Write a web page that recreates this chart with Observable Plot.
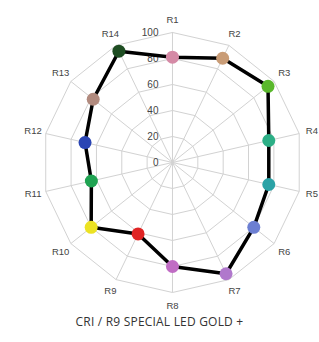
<!DOCTYPE html>
<html>
<head>
<meta charset="utf-8">
<script src="https://cdn.jsdelivr.net/npm/d3@7"></script>
<script src="https://cdn.jsdelivr.net/npm/@observablehq/plot@0.6"></script>
<style>
  html, body { margin: 0; padding: 0; background: #fff; }
  #chart { width: 319px; height: 313px; }
  #chart svg { display: block; }
  .caption { width: 319px; text-align: center; font-family: "Open Sans", sans-serif; font-size: 12px; color: #333; margin-top: 0px; letter-spacing: 0.2px; }
</style>
</head>
<body>
<div id="chart"></div>
<div class="caption">CRI / R9 SPECIAL LED GOLD +</div>
<script>
const categories = ["R1","R2","R3","R4","R5","R6","R7","R8","R9","R10","R11","R12","R13","R14"];
const values = [81, 89, 94, 76, 76, 80, 95, 80, 61, 80, 64, 69, 78, 95];
const colors = ["#d58aa6","#c99c76","#5ab82c","#2caf86","#2aa2a6","#6c7fd2","#b078cc","#c06cc4","#e02424","#ece223","#1fa352","#2a45b4","#b18a7e","#1e4d22"];
const tickLevels = [0, 20, 40, 60, 80, 100];
const gridLevels = [20, 40, 60, 80, 100];
const labelRadius = 110;

const n = categories.length;
const ang = i => 2 * Math.PI * i / n;
const px = (i, v) => v * Math.sin(ang(i));
const py = (i, v) => v * Math.cos(ang(i));

const gridPts = gridLevels.flatMap(l => d3.range(n + 1).map(i => ({l, x: px(i % n, l), y: py(i % n, l)})));
const spokes = categories.map((c, i) => ({x2: px(i, 100), y2: py(i, 100)}));
const pts = categories.map((c, i) => ({c, v: values[i], col: colors[i], x: px(i, values[i]), y: py(i, values[i])}));
const loop = [...pts, pts[0]];
const labels = categories.map((c, i) => ({c, x: px(i, labelRadius), y: py(i, labelRadius)}));
const ticks = tickLevels.map(t => ({t, x: 0, y: t}));

const H = 313;
const chart = Plot.plot({
  width: 319,
  height: H,
  margin: 0,
  x: {domain: [-132.3, 113.1], range: [0, 319], axis: null},
  y: {domain: [(162 - H) / 1.3, 124.6], range: [H, 0], axis: null},
  style: {fontFamily: "'Liberation Sans', Arial, sans-serif", background: "#fff"},
  marks: [
    Plot.line(gridPts, {x: "x", y: "y", z: "l", stroke: "#d2d2d2", strokeWidth: 1}),
    Plot.link(spokes, {x1: 0, y1: 0, x2: "x2", y2: "y2", stroke: "#d2d2d2", strokeWidth: 1}),
    Plot.text(ticks, {x: "x", y: "y", text: d => String(d.t), textAnchor: "end", dx: -14, fontSize: 10, fill: "#444"}),
    Plot.text(labels, {x: "x", y: "y", text: "c", fontSize: 9.5, fill: "#444"}),
    Plot.line(loop, {x: "x", y: "y", stroke: "#000", strokeWidth: 3.5, strokeLinejoin: "round"}),
    Plot.dot(pts, {x: "x", y: "y", r: 6.5, fill: "col", stroke: "none"})
  ]
});
document.getElementById("chart").appendChild(chart);
</script>
</body>
</html>
